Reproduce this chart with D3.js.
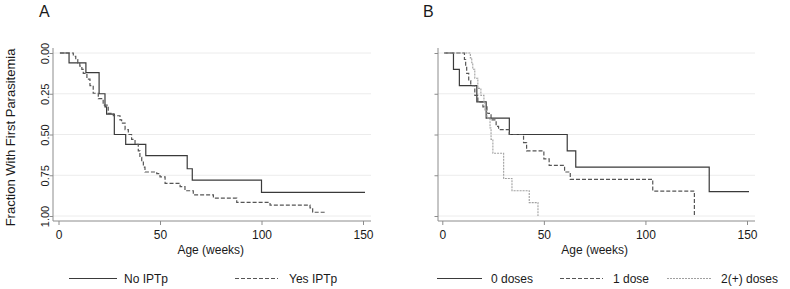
<!DOCTYPE html>
<html><head><meta charset="utf-8">
<script src="https://cdn.jsdelivr.net/npm/d3@7"></script>
<style>
body{margin:0;background:#fff;}
svg text{font-family:"Liberation Sans",Arial,Helvetica,sans-serif;fill:#1a1a1a;}
</style>
</head><body><svg id="c" width="790" height="289"></svg>
<script>
// ---------- data ----------
const xTicks = [0, 50, 100, 150];
const yTicks = [0, 0.25, 0.5, 0.75, 1];
const yTickLabels = ["0.00", "0.25", "0.50", "0.75", "1.00"];
const panelLabels = ["A", "B"];
const xTitle = "Age (weeks)";
const yTitle = "Fraction With First Parasitemia";

// Panel A
const noIptpWeeks = [0.7, 5.2, 13.5, 20, 22.9, 23.7, 27.5, 33.1, 43, 63.4, 65.9, 100, 151];
const noIptpFrac  = [0, 0.06, 0.12, 0.25, 0.33, 0.375, 0.5, 0.56, 0.63, 0.71, 0.78, 0.855, 0.855];
const yesIptpWeeks = [0.7, 7.3, 8.5, 9.5, 10.5, 11.5, 12.2, 14, 15.5, 17.1, 19.6, 22, 24.5, 27, 30.3, 31.1, 32.8, 34.4, 36, 37.7, 39.3, 40.1, 41, 41.8, 42.6, 48.4, 50, 52.5, 59.9, 62.3, 66.4, 76.3, 87.8, 104.2, 123.9, 125.2, 131.8];
const yesIptpFrac  = [0, 0.02, 0.04, 0.06, 0.08, 0.10, 0.125, 0.16, 0.20, 0.247, 0.28, 0.32, 0.37, 0.385, 0.41, 0.43, 0.47, 0.50, 0.53, 0.56, 0.60, 0.64, 0.67, 0.70, 0.73, 0.74, 0.76, 0.80, 0.82, 0.845, 0.87, 0.89, 0.916, 0.933, 0.95, 0.977, 0.977];

// Panel B
const dose0Weeks = [1, 5.5, 8.4, 17, 21.6, 33, 61.5, 65.7, 131.4, 151];
const dose0Frac  = [0, 0.1, 0.2, 0.3, 0.4, 0.5, 0.6, 0.7, 0.85, 0.85];
const dose1Weeks = [1, 10.9, 11.5, 12, 13, 14, 16, 17.5, 20, 22, 24, 26.5, 27.7, 33, 40, 41.5, 50, 52.6, 60.2, 63, 103.6, 124.1];
const dose1Frac  = [0, 0.04, 0.08, 0.125, 0.17, 0.2, 0.26, 0.3, 0.33, 0.37, 0.41, 0.45, 0.47, 0.5, 0.55, 0.6, 0.65, 0.69, 0.73, 0.775, 0.847, 1.0];
const dose2Weeks = [1, 13.8, 14.5, 15, 16, 17.5, 19, 20.5, 21, 22, 23.5, 24, 24.9, 30.2, 34.3, 42.8, 47.1];
const dose2Frac  = [0, 0.03, 0.06, 0.1, 0.155, 0.217, 0.26, 0.3, 0.35, 0.4, 0.46, 0.53, 0.615, 0.77, 0.845, 0.918, 1.0];

const legendA = ["No IPTp", "Yes IPTp"];
const legendB = ["0 doses", "1 dose", "2(+) doses"];

// ---------- styles ----------
const styles = [
  {stroke:"#3a3a3a", dash:null, width:1.2},
  {stroke:"#555555", dash:"4,2", width:1.2},
  {stroke:"#a0a0a0", dash:"2,1", width:1.1}
];

const panels = [
  {label:panelLabels[0], labelX:39, axisX:53, x0:58.5, x1:363, xEnd:371,
   series:[[noIptpWeeks,noIptpFrac],[yesIptpWeeks,yesIptpFrac]],
   showYLabels:true,
   legend:legendA, legendPos:[[69,117,124],[235,278,289]]},
  {label:panelLabels[1], labelX:423, axisX:438, x0:442.3, x1:747, xEnd:755,
   series:[[dose0Weeks,dose0Frac],[dose1Weeks,dose1Frac],[dose2Weeks,dose2Frac]],
   showYLabels:false,
   legend:legendB, legendPos:[[437,482,491],[560,603,613],[667,712,721]]}
];

const svg = d3.select("#c");
const yTop = 53, yBot = 216, axisY = 221, axisTop = 48;
const y = d3.scaleLinear().domain([0,1]).range([yTop, yBot]);

panels.forEach(p => {
  const x = d3.scaleLinear().domain([0,150]).range([p.x0, p.x1]);
  const g = svg.append("g");

  // panel label
  g.append("text").attr("x", p.labelX).attr("y", 17).attr("font-size", 16).text(p.label);

  // gridlines
  g.selectAll("line.grid").data(yTicks).join("line").attr("class","grid")
    .attr("x1", p.axisX).attr("x2", p.xEnd)
    .attr("y1", d => y(d)).attr("y2", d => y(d))
    .attr("stroke", "#ececec").attr("stroke-width", 1);

  // y axis
  const ya = g.append("g").attr("transform", `translate(${p.axisX},0)`)
    .call(d3.axisLeft(y).tickValues(yTicks).tickSize(3.5).tickSizeOuter(0)
      .tickFormat((d,i) => p.showYLabels ? yTickLabels[i] : ""));
  ya.select(".domain").remove();
  ya.selectAll(".tick line").attr("stroke", "#8c8c8c");
  ya.selectAll(".tick text").attr("transform","rotate(-90)").attr("x",0).attr("y",-4.5)
    .attr("dy",0).attr("text-anchor","middle").attr("font-size",11)
    .attr("font-family",null).attr("fill","#1a1a1a");
  ya.append("line").attr("x1",0).attr("x2",0).attr("y1",axisTop).attr("y2",axisY)
    .attr("stroke","#8c8c8c");

  // x axis
  const xa = g.append("g").attr("transform", `translate(0,${axisY})`)
    .call(d3.axisBottom(x).tickValues(xTicks).tickSize(4).tickSizeOuter(0).tickPadding(5));
  xa.select(".domain").remove();
  xa.selectAll(".tick line").attr("stroke", "#8c8c8c");
  xa.selectAll(".tick text").attr("font-size",12).attr("font-family",null).attr("fill","#1a1a1a");
  xa.append("line").attr("x1",p.axisX).attr("x2",p.xEnd).attr("y1",0).attr("y2",0)
    .attr("stroke","#8c8c8c");

  // x title
  g.append("text").attr("x", (p.x0+p.x1)/2).attr("y", 254).attr("text-anchor","middle")
    .attr("font-size", 12).text(xTitle);

  // curves
  const line = d3.line().x(d => x(d[0])).y(d => y(d[1])).curve(d3.curveStepAfter);
  p.series.forEach((s,i) => {
    const pts = s[0].map((w,j) => [w, s[1][j]]);
    g.append("path").datum(pts).attr("d", line).attr("fill","none")
      .attr("stroke", styles[i].stroke).attr("stroke-width", styles[i].width)
      .attr("stroke-dasharray", styles[i].dash);
  });

  // legend
  p.legend.forEach((name,i) => {
    const lp = p.legendPos[i];
    g.append("line").attr("x1",lp[0]).attr("x2",lp[1]).attr("y1",278.5).attr("y2",278.5)
      .attr("stroke", styles[i].stroke).attr("stroke-width", styles[i].width)
      .attr("stroke-dasharray", styles[i].dash);
    g.append("text").attr("x", lp[2]).attr("y", 282.5).attr("font-size", 12).text(name);
  });
});

// y title
svg.append("text").attr("transform", `translate(15,${(axisTop+axisY)/2 + 3}) rotate(-90)`)
  .attr("text-anchor","middle").attr("font-size",13).text(yTitle);
</script>
</body></html>
